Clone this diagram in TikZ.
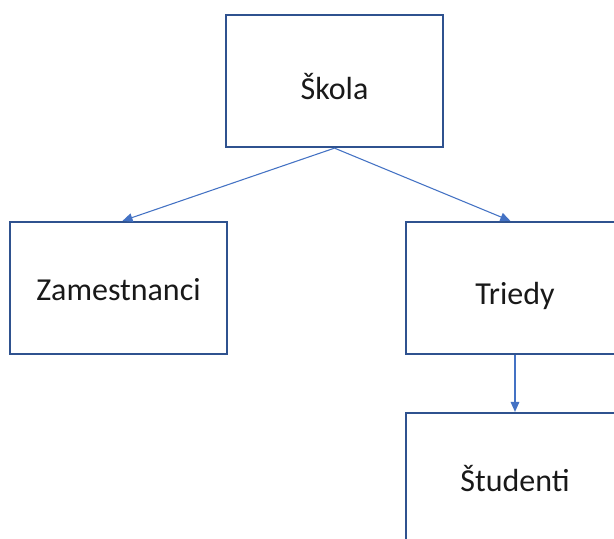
\documentclass[tikz,border=0pt]{standalone}
\usepackage{fontspec}
\setmainfont{Carlito}
\usetikzlibrary{arrows.meta}
\definecolor{boxline}{HTML}{2F528F}
\definecolor{linkline}{HTML}{4472C4}
\begin{document}
\begin{tikzpicture}[x=0.75pt,y=-0.75pt,
  orgbox/.style={draw=boxline,line width=1.7pt,fill=white,rectangle,
    minimum width=163pt,minimum height=99pt,inner sep=0pt},
  boxtext/.style={inner sep=0pt,font=\fontsize{24}{28}\selectfont,text=black!90},
  link/.style={draw=linkline,line width=0.8pt,
    -{Triangle[length=7.5pt,width=6.5pt]}}]
  \useasboundingbox (0,0) rectangle (614,539);
  \clip (0,0) rectangle (614,539);
  \fill[white] (0,0) rectangle (614,539);
  % boxes
  \node[orgbox] (skola) at (334.5,81) {};
  \node[orgbox] (zam) at (118.5,288) {};
  \node[orgbox] (tri) at (515,288) {};
  \node[orgbox] (stu) at (515,479) {};
  % captions
  \node[boxtext] (skolaT) at ([yshift=-4pt]skola.center) {Škola};
  \node[boxtext] (zamT) at ([yshift=-1.5pt]zam.center) {Zamestnanci};
  \node[boxtext] (triT) at ([yshift=-6pt]tri.center) {Triedy};
  \node[boxtext] (stuT) at (stu.center) {Študenti};
  % connectors
  \draw[link] (skola.south) -- ([xshift=3pt]zam.north);
  \draw[link] (skola.south) -- ([xshift=-3.5pt]tri.north);
  \draw[link] (tri.south) -- (stu.north);
\end{tikzpicture}
\end{document}
